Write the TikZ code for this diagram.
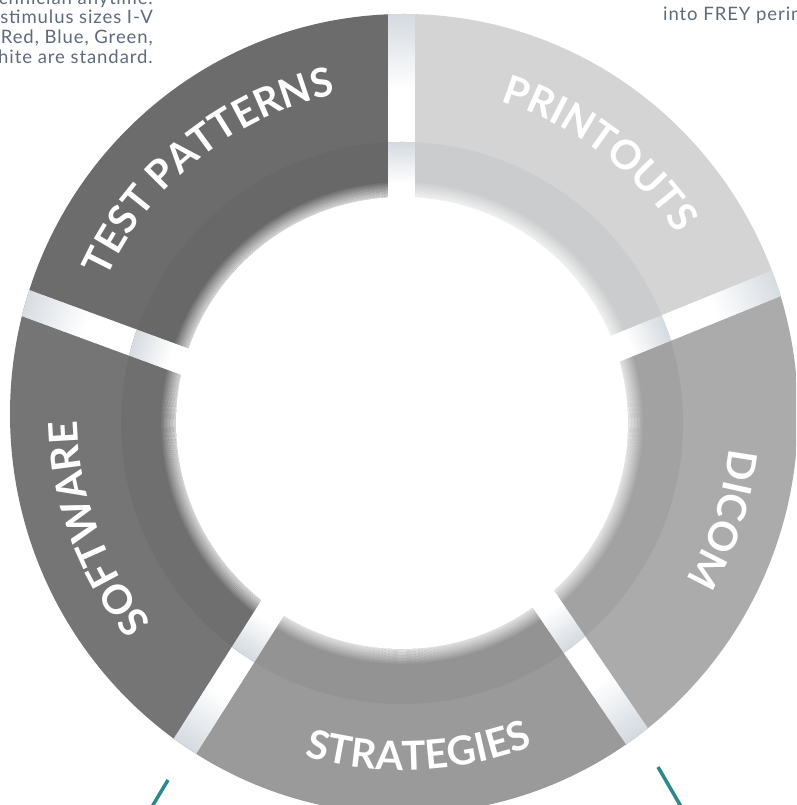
\documentclass[tikz,border=0pt]{standalone}
\usepackage{fontspec}
\setmainfont{Lato}
\newfontfamily\smallfont{Lato}[LetterSpace=5]
\usetikzlibrary{calc,decorations.text}

\definecolor{txtc}{HTML}{5E6B7C}
\definecolor{tealc}{HTML}{2B8A89}
\definecolor{gapc}{HTML}{D3D9DF}
% outer band colours (inner edge / outer edge)
\definecolor{tpOa}{HTML}{6C6C6C}\definecolor{tpOb}{HTML}{535458}
\definecolor{prOa}{HTML}{D4D4D4}\definecolor{prOb}{HTML}{A9ACB0}
\definecolor{diOa}{HTML}{ABABAB}\definecolor{diOb}{HTML}{87898C}
\definecolor{stOa}{HTML}{9A9A9A}\definecolor{stOb}{HTML}{818285}
\definecolor{swOa}{HTML}{757575}\definecolor{swOb}{HTML}{595A5D}
% inner band colours
\definecolor{tpIa}{HTML}{686868}\definecolor{tpIb}{HTML}{4B4C50}
\definecolor{prIa}{HTML}{CBCCCD}\definecolor{prIb}{HTML}{A0A4A9}
\definecolor{diIa}{HTML}{A2A2A2}\definecolor{diIb}{HTML}{7E8185}
\definecolor{stIa}{HTML}{939393}\definecolor{stIb}{HTML}{6F7074}
\definecolor{swIa}{HTML}{6F6F6F}\definecolor{swIb}{HTML}{505155}

\pgfdeclareradialshading{tpO}{\pgfpointorigin}{color(0pt)=(tpOa); color(270pt)=(tpOa); color(400pt)=(tpOb)}
\pgfdeclareradialshading{prO}{\pgfpointorigin}{color(0pt)=(prOa); color(270pt)=(prOa); color(400pt)=(prOb)}
\pgfdeclareradialshading{diO}{\pgfpointorigin}{color(0pt)=(diOa); color(270pt)=(diOa); color(400pt)=(diOb)}
\pgfdeclareradialshading{stO}{\pgfpointorigin}{color(0pt)=(stOa); color(270pt)=(stOa); color(400pt)=(stOb)}
\pgfdeclareradialshading{swO}{\pgfpointorigin}{color(0pt)=(swOa); color(270pt)=(swOa); color(400pt)=(swOb)}
\pgfdeclareradialshading{tpI}{\pgfpointorigin}{color(0pt)=(tpIa); color(230pt)=(tpIa); color(281pt)=(tpIb)}
\pgfdeclareradialshading{prI}{\pgfpointorigin}{color(0pt)=(prIa); color(230pt)=(prIa); color(281pt)=(prIb)}
\pgfdeclareradialshading{diI}{\pgfpointorigin}{color(0pt)=(diIa); color(230pt)=(diIa); color(281pt)=(diIb)}
\pgfdeclareradialshading{stI}{\pgfpointorigin}{color(0pt)=(stIa); color(230pt)=(stIa); color(281pt)=(stIb)}
\pgfdeclareradialshading{swI}{\pgfpointorigin}{color(0pt)=(swIa); color(230pt)=(swIa); color(281pt)=(swIb)}

\newcommand{\lblfont}{\bfseries\fontsize{40}{40}\selectfont}

% #1 Ga, #2 angle a, #3 Gb, #4 angle b, #5 mid angle, #6 shading
\newcommand\outerseg[6]{%
  \begin{scope}
    \clip (I) -- (#1) -- ($(#1)+(#2:700)$) -- ($(I)+(#5:1100)$) -- ($(#3)+(#4:700)$) -- (#3) -- cycle;
    \clip (O) ellipse [x radius=394, y radius=400];
    \shade[shading=#6] (O) circle (400);
  \end{scope}}
\newcommand\innerseg[6]{%
  \begin{scope}
    \clip (I) -- (#1) -- ($(#1)+(#2:700)$) -- ($(I)+(#5:1100)$) -- ($(#3)+(#4:700)$) -- (#3) -- cycle;
    \shade[shading=#6] (I) circle (281);
  \end{scope}}
% gap strips: #1 coordinate, #2 angle, #3 s at outer edge
\newcommand\outerstrip[3]{%
  \begin{scope}
    \clip (O) ellipse [x radius=394, y radius=400];
    \begin{scope}[shift={(#1)}, rotate=#2]
      \foreach \gs in {30,32,...,230}{%
        \pgfmathsetmacro\gp{max(0,min(100,((\gs-55)/(#3-55)-0.4)/0.6*100))}%
        \draw[line width=27pt, gapc!\gp!white] (\gs,0) -- (\gs+2.8,0);
      }
    \end{scope}
  \end{scope}}
\newcommand\innerstrip[2]{%
  \begin{scope}
    \clip (I) circle (281);
    \begin{scope}[shift={(#1)}, rotate=#2]
      \foreach \gs in {-10,-8,...,80}{%
        \pgfmathsetmacro\gp{max(0,min(100,(\gs-12)/43*100))}%
        \draw[line width=27pt, gapc!\gp!white] (\gs,0) -- (\gs+2.8,0);
      }
    \end{scope}
  \end{scope}}

\tikzset{
  lbl/.style={decorate, decoration={text along path, text align=center, text color=white, text={|\lblfont|#1}}},
  txt/.style={font=\smallfont\fontsize{18.5}{20}\selectfont, text=txtc, inner sep=0pt},
  conn/.style={tealc, line width=3.5pt}
}

\begin{document}
\begin{tikzpicture}[x=1pt,y=1pt]
\useasboundingbox (0,0) rectangle (796,805);
\clip (0,0) rectangle (796,805);
\fill[white] (0,0) rectangle (796,805);

\coordinate (O) at (404,391);
\coordinate (I) at (402,382);
\coordinate (G1) at (401.5,608);
\coordinate (G2) at (183,444);
\coordinate (G3) at (617,457);
\coordinate (G4) at (272,196);
\coordinate (G5) at (544,205);

% outer band segments
\outerseg{G1}{90}{G3}{22.1}{56}{prO}
\outerseg{G3}{22.1}{G5}{304.3}{343}{diO}
\outerseg{G5}{304.3}{G4}{237.6}{271}{stO}
\outerseg{G4}{237.6}{G2}{159.8}{198.7}{swO}
\outerseg{G2}{159.8}{G1}{90}{125}{tpO}

% outer gap strips
\outerstrip{G1}{90}{183}
\outerstrip{G2}{159.8}{174}
\outerstrip{G3}{22.1}{178}
\outerstrip{G4}{237.6}{164}
\outerstrip{G5}{304.3}{166}

% inner band segments
\innerseg{G1}{90}{G3}{22.1}{56}{prI}
\innerseg{G3}{22.1}{G5}{304.3}{343}{diI}
\innerseg{G5}{304.3}{G4}{237.6}{271}{stI}
\innerseg{G4}{237.6}{G2}{159.8}{198.7}{swI}
\innerseg{G2}{159.8}{G1}{90}{125}{tpI}

% inner gap strips
\innerstrip{G1}{90}
\innerstrip{G2}{159.8}
\innerstrip{G3}{22.1}
\innerstrip{G4}{237.6}
\innerstrip{G5}{304.3}

% white centre with soft edge
\fill[white] (I) circle (226);
\foreach \k in {1,...,10}{%
  \pgfmathsetmacro\ko{0.75*(11-\k)/11}%
  \draw[white, line width=1.6pt, opacity=\ko] (I) circle (225+1.5*\k);
}

% labels
\path[lbl={TEST PATTERNS}] ($(O)+(168.8:327)$) arc[start angle=168.8, end angle=88.8, radius=327];
\path[lbl={PRINTOUTS}] ($(O)+(93.1:327)$) arc[start angle=93.1, end angle=13.1, radius=327];
\path[lbl={DICOM}] ($(O)+(21.7:327)$) arc[start angle=21.7, end angle=-58.3, radius=327];
\path[lbl={SOFTWARE}] ($(O)+(240.4:327)$) arc[start angle=240.4, end angle=160.4, radius=327];
\path[lbl={STRATEGIES}] ($(O)+(232.5:356)$) arc[start angle=232.5, end angle=312.5, radius=356];

% connectors leaving the picture
\coordinate (L1a) at (168,25);
\coordinate (L1b) at (150,-5);
\coordinate (L2a) at (658,38);
\coordinate (L2b) at (683,-5);
\draw[conn] (L1a) -- (L1b);
\draw[conn] (L2a) -- (L2b);

% texts at the top
\node[txt, anchor=base east] (t1) at (153,800.5) {technician anytime.};
\node[txt, anchor=base east] (t2) at (153,781) {stimulus sizes I-V};
\node[txt, anchor=base east] (t3) at (153,761) {Red, Blue, Green,};
\node[txt, anchor=base east] (t4) at (153,741) {hite are standard.};
\node[txt, anchor=base west] (t5) at (663,784) {into FREY perim};
\end{tikzpicture}
\end{document}
